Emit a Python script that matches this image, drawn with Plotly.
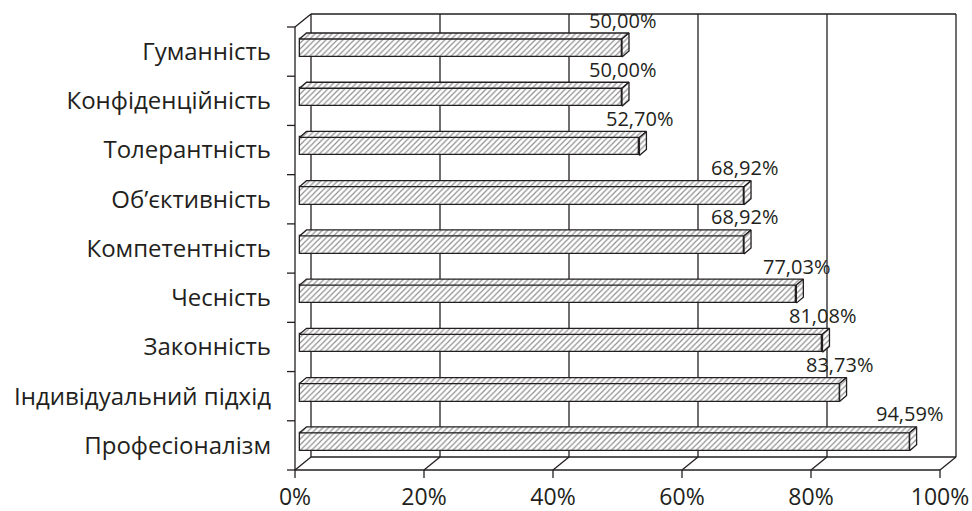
import plotly.graph_objects as go

# ---- data (top to bottom as shown) ----
categories = ["Гуманність", "Конфіденційність", "Толерантність", "Об’єктивність",
              "Компетентність", "Чесність", "Законність", "Індивідуальний підхід",
              "Професіоналізм"]
values = [50.00, 50.00, 52.70, 68.92, 68.92, 77.03, 81.08, 83.73, 94.59]
tick_values = [0, 20, 40, 60, 80, 100]
tick_labels = ["0%", "20%", "40%", "60%", "80%", "100%"]

# ---- geometry (pixels -> data units) ----
W, H = 972, 511
X0_PX = 295          # front 0% position
X100_PX = 940        # front 100%
Y_FRONT_BOTTOM = 470
N = len(categories)
SX = (X100_PX - X0_PX) / 100.0     # px per %
SY = (470 - 27) / N                # px per category band
DX = 16 / SX                        # wall depth offset (x)
DY = 13 / SY                        # wall depth offset (y)
FX = 4.5 / SX                       # bar front-face depth offset
FY = 3.6 / SY
BDX = 7 / SX                        # bar depth
BDY = 6 / SY
BAR_H = 18 / SY

ML, MR, MT = 286, 14, 12
MB = H - 478
xr = [(ML - X0_PX) / SX, (W - MR - X0_PX) / SX]
yr = [-0.5 - (478 - Y_FRONT_BOTTOM) / SY, -0.5 + (Y_FRONT_BOTTOM - MT) / SY]

TXT = "#231f20"
LINE = "#231f20"
FONT = "Open Sans"
HATCH = dict(shape="/", size=4, solidity=0.3, fgcolor="#222222", bgcolor="white")

ypos = [N - 1 - k for k in range(N)]
ybar = [y + FY for y in ypos]

fig = go.Figure()

# front faces
fig.add_trace(go.Bar(
    x=values, y=ybar, base=[FX] * N, orientation="h", width=BAR_H,
    marker=dict(color="white", line=dict(color=LINE, width=1.3), pattern=HATCH),
    showlegend=False, hoverinfo="skip"))

# top and side faces
tx, ty, sx_, sy_ = [], [], [], []
for v, yc in zip(values, ybar):
    top = yc + BAR_H / 2
    bot = yc - BAR_H / 2
    tx += [FX, FX + v, FX + v + BDX, FX + BDX, FX, None]
    ty += [top, top, top + BDY, top + BDY, top, None]
    sx_ += [FX + v, FX + v, FX + v + BDX, FX + v + BDX, FX + v, None]
    sy_ += [bot, top, top + BDY, bot + BDY, bot, None]
for xs, ys in ((tx, ty), (sx_, sy_)):
    fig.add_trace(go.Scatter(
        x=xs, y=ys, mode="lines", fill="toself", fillcolor="white",
        fillpattern=HATCH,
        line=dict(color=LINE, width=1.3), showlegend=False, hoverinfo="skip"))

# value labels
for v, yc in zip(values, ybar):
    fig.add_annotation(x=FX + v, y=yc + BAR_H / 2 + BDY + 13 / SY,
                       text=f"{v:.2f}".replace(".", ",") + "%", showarrow=False,
                       xanchor="center", yanchor="middle",
                       font=dict(family=FONT, size=20, color=TXT))

# frame / walls
shapes = []
def seg(x0, y0, x1, y1, layer="below"):
    shapes.append(dict(type="line", xref="x", yref="y", x0=x0, y0=y0, x1=x1, y1=y1,
                       line=dict(color=LINE, width=1.3), layer=layer))

ybot, ytop = -0.5, N - 0.5
seg(DX, ybot + DY, DX, ytop + DY)
seg(DX, ytop + DY, 100 + DX, ytop + DY)
seg(100 + DX, ybot + DY, 100 + DX, ytop + DY)
seg(DX, ybot + DY, 100 + DX, ybot + DY)
for v in tick_values[1:-1]:
    seg(v + DX, ybot + DY, v + DX, ytop + DY)
for v in tick_values:
    seg(v, ybot, v + DX, ybot + DY)
    seg(v, ybot, v, ybot - 8 / SY)
seg(0, ybot, 100, ybot)
seg(0, ybot, 0, ytop)
seg(0, ytop, DX, ytop + DY)
for k in range(N + 1):
    seg(-8 / SX, ybot + k, 0, ybot + k)

fig.update_layout(
    width=W, height=H, margin=dict(l=ML, r=MR, t=MT, b=MB),
    plot_bgcolor="white", paper_bgcolor="white", shapes=shapes, bargap=0,
    xaxis=dict(range=xr, showgrid=False, zeroline=False, showline=False, automargin=False,
               tickvals=tick_values, ticktext=tick_labels, ticks="", ticklabelstandoff=3,
               tickfont=dict(family=FONT, size=23, color=TXT)),
    yaxis=dict(range=yr, showgrid=False, zeroline=False, showline=False, automargin=False,
               tickvals=ypos, ticktext=categories, ticks="", ticklabelstandoff=14,
               tickfont=dict(family=FONT, size=24, color=TXT)),
)

fig.write_html("out.html")
